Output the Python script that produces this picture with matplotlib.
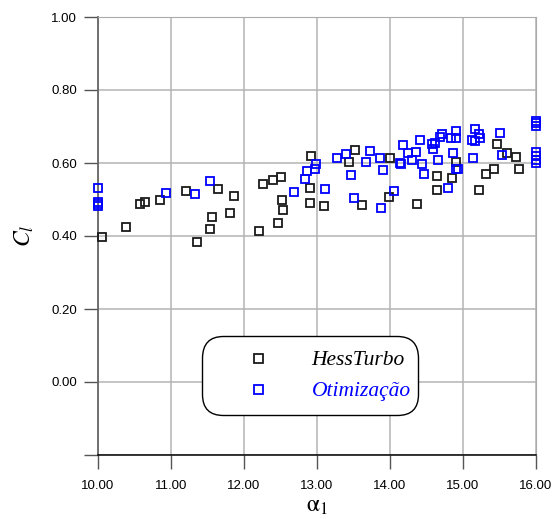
import matplotlib
matplotlib.use("Agg")
import matplotlib.pyplot as plt
import numpy as np

# HessTurbo points (alpha_1, C_l)
hess_x = [10.05, 10.38, 10.58, 10.65, 10.85, 11.21, 11.64, 11.86, 11.56, 11.81,
          11.53, 11.36, 13.52, 12.92, 13.44, 14.00, 12.50, 12.40, 12.26, 12.90,
          12.52, 12.53, 12.90, 13.09, 13.62, 13.99, 12.47, 12.20, 14.91, 14.65,
          14.85, 14.65, 14.37, 15.46, 15.60, 15.73, 15.43, 15.31, 15.77, 15.22]
hess_y = [0.396, 0.425, 0.487, 0.492, 0.500, 0.524, 0.528, 0.510, 0.452, 0.463,
          0.419, 0.384, 0.636, 0.619, 0.603, 0.615, 0.563, 0.553, 0.542, 0.532,
          0.500, 0.471, 0.490, 0.481, 0.484, 0.507, 0.435, 0.413, 0.604, 0.565,
          0.559, 0.526, 0.487, 0.652, 0.627, 0.616, 0.584, 0.570, 0.584, 0.526]

# Otimizacao points
otim_x = [10.00, 10.00, 10.00, 10.00, 10.93, 11.33, 11.53, 13.40, 13.28, 13.72,
          13.86, 13.67, 14.14, 12.99, 12.97, 12.86, 12.83, 13.91, 13.47, 12.68,
          13.11, 13.50, 13.88, 14.05, 16.00, 16.00, 16.00, 16.00, 16.00, 16.00,
          16.00, 14.18, 14.41, 14.25, 14.36, 14.30, 14.15, 14.44, 14.47, 14.71,
          14.69, 14.58, 14.61, 14.59, 14.66, 14.90, 14.84, 14.90, 14.86, 14.90,
          14.93, 14.79, 15.16, 15.22, 15.23, 15.17, 15.12, 15.50, 15.54, 15.14]
otim_y = [0.531, 0.494, 0.488, 0.482, 0.517, 0.516, 0.551, 0.626, 0.613, 0.633,
          0.613, 0.602, 0.599, 0.596, 0.584, 0.579, 0.557, 0.582, 0.567, 0.521,
          0.529, 0.503, 0.477, 0.523, 0.716, 0.709, 0.701, 0.630, 0.619, 0.608,
          0.601, 0.649, 0.662, 0.627, 0.631, 0.607, 0.598, 0.598, 0.571, 0.680,
          0.670, 0.651, 0.654, 0.638, 0.608, 0.687, 0.669, 0.668, 0.627, 0.583,
          0.584, 0.532, 0.692, 0.679, 0.668, 0.661, 0.663, 0.681, 0.621, 0.613]

x_ticks = [10, 11, 12, 13, 14, 15, 16]
y_ticks = [0.0, 0.2, 0.4, 0.6, 0.8, 1.0]

plt.rcParams['mathtext.fontset'] = 'stix'

fig = plt.figure(figsize=(5.53, 5.19), dpi=100)
ax = fig.add_axes([98/553, 64/519, 438/553, 438/519])

ax.plot(hess_x, hess_y, 's', mfc='none', mec='#1a1a1a', mew=1.3, ms=5.4,
        ls='none', label='HessTurbo', clip_on=False, zorder=3)
ax.plot(otim_x, otim_y, 's', mfc='none', mec='#0000ff', mew=1.3, ms=5.4,
        ls='none', label='Otimização', clip_on=False, zorder=3)

ax.set_xlim(10, 16)
ax.set_ylim(-0.2, 1.0)
ax.set_xticks(x_ticks)
ax.set_xticklabels([f"{v:.2f}" for v in x_ticks])
ax.set_yticks(y_ticks + [-0.2])
ax.set_yticklabels([f"{v:.2f}" for v in y_ticks] + [""])

ax.grid(True, color='#b4b4b4', lw=1.1)
ax.set_axisbelow(True)
ax.tick_params(direction='out', length=10, width=1, color='#555555',
               labelsize=9.5)
ax.tick_params(axis='x', pad=8)
ax.tick_params(axis='y', pad=5)
for lab in ax.get_xticklabels() + ax.get_yticklabels():
    lab.set_family('Liberation Sans')

ax.spines['left'].set_color('#666666')
ax.spines['left'].set_linewidth(1.3)
ax.spines['bottom'].set_color('black')
ax.spines['bottom'].set_linewidth(1.1)
ax.spines['top'].set_color('#aaaaaa')
ax.spines['right'].set_color('#aaaaaa')

ax.set_ylabel(r'$C_l$', fontsize=17, labelpad=11)
ax.set_xlabel(r'$\mathrm{\alpha}_{1}$', fontsize=17, labelpad=1)

leg = ax.legend(loc='lower left', bbox_to_anchor=(0.237, 0.091, 0.494, 0.181),
                mode='expand', borderaxespad=0, fancybox=True, framealpha=1,
                edgecolor='black', handlelength=3.9, handletextpad=0.55,
                borderpad=0.65, labelspacing=0.5, markerscale=1.2,
                prop={'family': 'Liberation Serif', 'style': 'italic', 'size': 15.5})
leg.get_frame().set_boxstyle('round,pad=0,rounding_size=1.0')
leg.get_frame().set_linewidth(1.0)
for txt, col in zip(leg.get_texts(), ['black', '#0000ff']):
    txt.set_color(col)

fig.savefig('out.png', dpi=100)
